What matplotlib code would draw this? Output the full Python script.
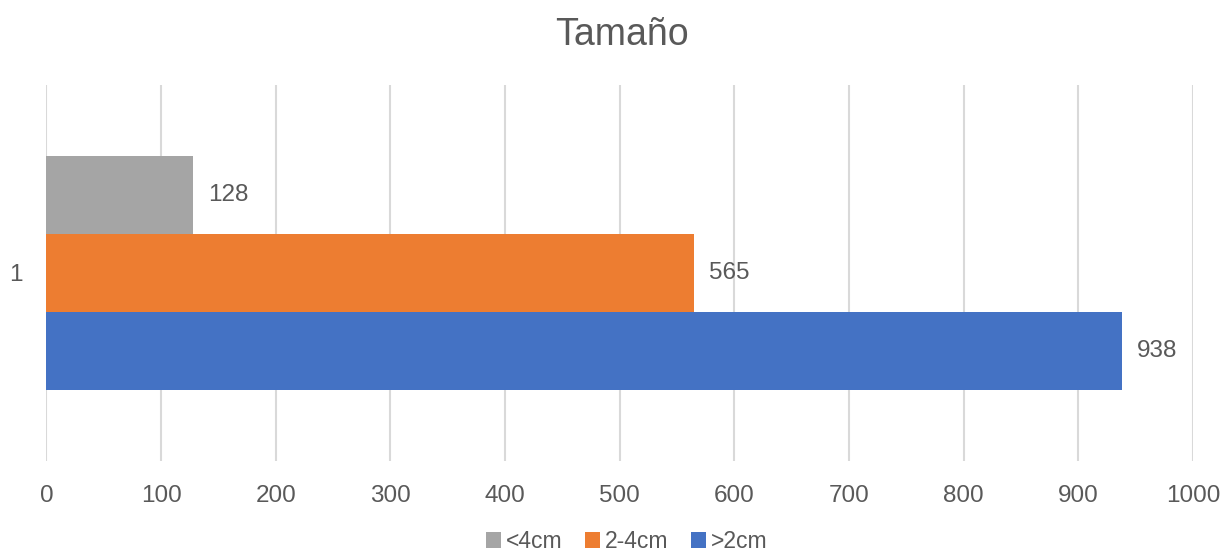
import matplotlib.pyplot as plt

series = ['<4cm', '2-4cm', '>2cm']
values = [128, 565, 938]
colors = ['#A5A5A5', '#ED7D31', '#4472C4']
positions = [1, 0, -1]
category = '1'
xticks = list(range(0, 1001, 100))

plt.rcParams['font.family'] = ['Liberation Sans', 'DejaVu Sans']
text_color = '#595959'

fig = plt.figure(figsize=(12.22, 5.52), dpi=100, facecolor='white')
ax = fig.add_axes([0.038, 0.165, 0.9383, 0.681])

for name, val, col, pos in zip(series, values, colors, positions):
    ax.barh(pos, val, height=1.0, color=col, label=name, zorder=2)
    ax.text(val + 13, pos, str(val), va='center', ha='left',
            fontsize=17.5, color=text_color)

ax.set_xlim(0, 1000)
ax.set_ylim(-2.41, 2.41)
ax.set_xticks(xticks)
ax.set_xticklabels([str(t) for t in xticks])
ax.set_yticks([0])
ax.set_yticklabels([category])
ax.tick_params(axis='x', length=0, pad=17, labelsize=17.5, labelcolor=text_color)
ax.tick_params(axis='y', length=0, pad=17, labelsize=17.5, labelcolor=text_color)
ax.grid(axis='x', color='#D9D9D9', linewidth=1.5, zorder=0)
for s in ax.spines.values():
    s.set_visible(False)

fig.suptitle('Tamaño', x=0.509, y=0.97, fontsize=27, color=text_color)

handles, labels = ax.get_legend_handles_labels()
fig.legend(handles, labels, loc='center', bbox_to_anchor=(0.513, 0.019), ncol=3,
           frameon=False, fontsize=16.5, labelcolor=text_color,
           handlelength=0.65, handleheight=0.65, handletextpad=0.2,
           columnspacing=1.0)

fig.savefig('out.png', dpi=100)
